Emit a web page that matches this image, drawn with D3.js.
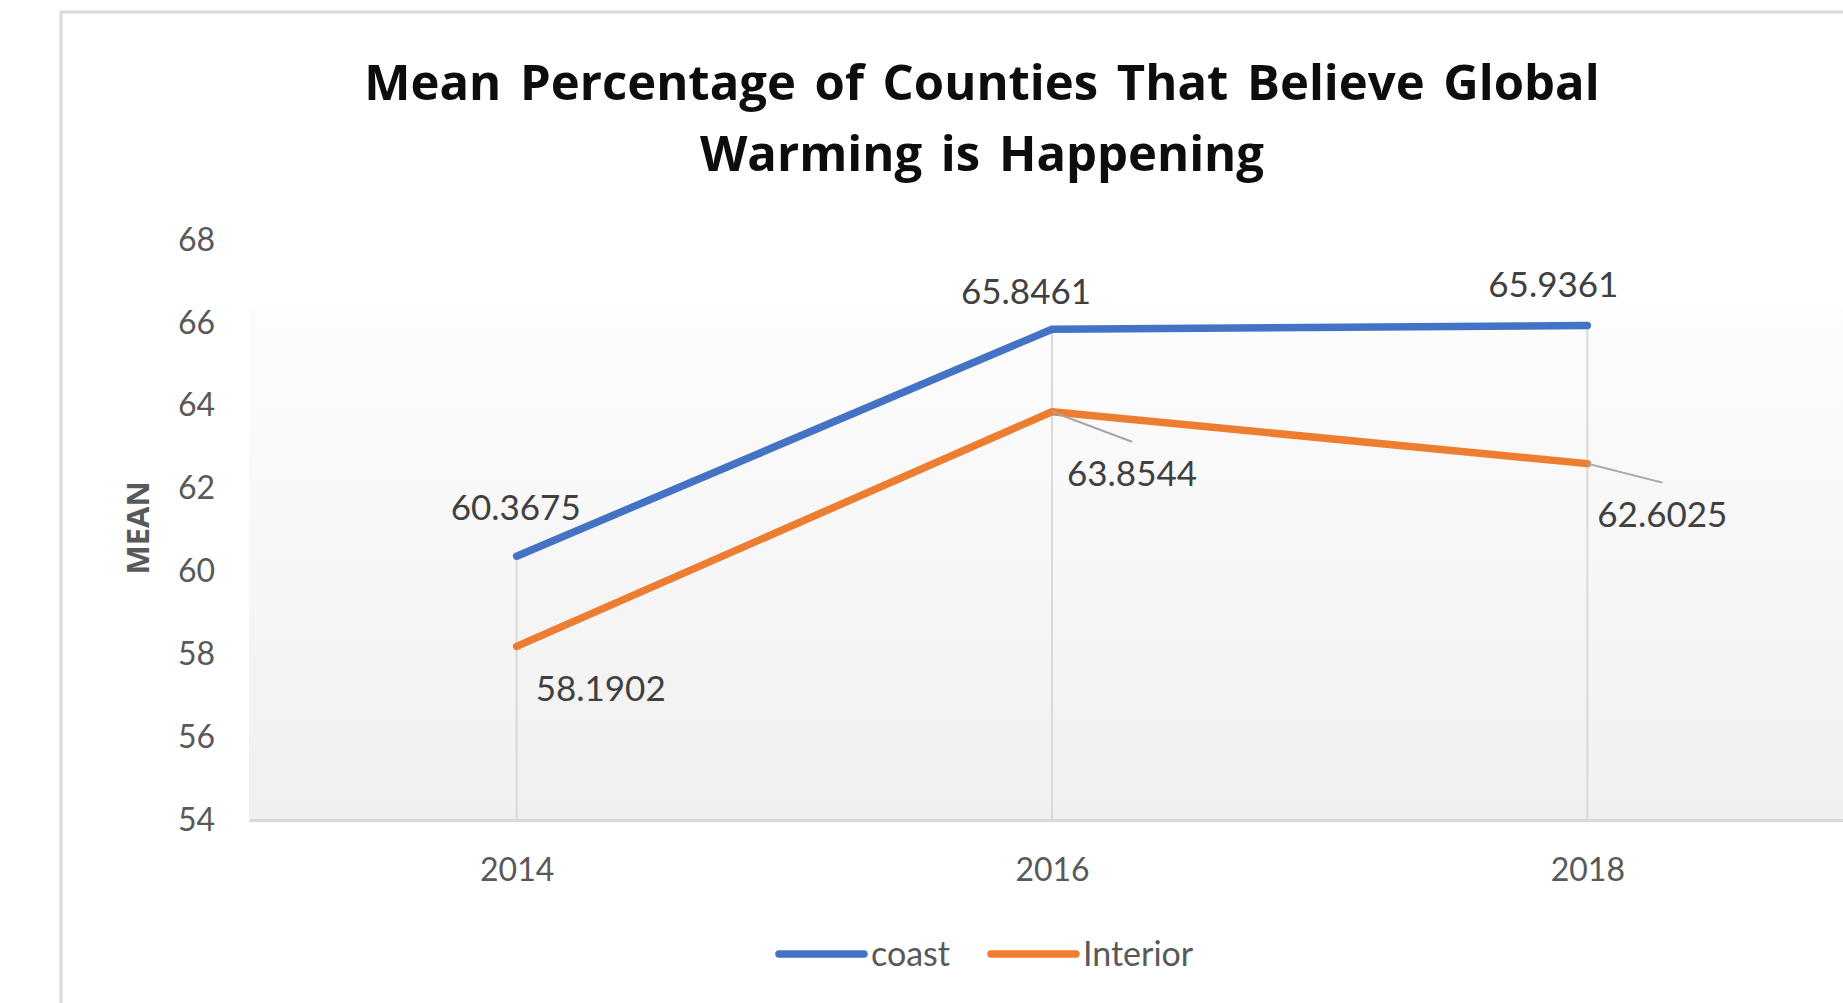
<!DOCTYPE html>
<html>
<head>
<meta charset="utf-8">
<script src="https://cdn.jsdelivr.net/npm/d3@7"></script>
<style>
  html, body { margin: 0; padding: 0; background: #ffffff; overflow: hidden; }
  svg { display: block; }
</style>
</head>
<body>
<svg id="chart" width="1843" height="1003"></svg>
<script>
// ---- data ----
const years = ["2014", "2016", "2018"];
const coast = [60.3675, 65.8461, 65.9361];
const interior = [58.1902, 63.8544, 62.6025];
const seriesNames = ["coast", "Interior"];
const yTicks = [54, 56, 58, 60, 62, 64, 66, 68];
const titleLines = ["Mean Percentage of Counties That Believe Global", "Warming is Happening"];
const yAxisTitle = "MEAN";

// ---- layout & style ----
const W = 1843, H = 1003;
const colors = ["#4472C4", "#ED7D31"];
const plot = { left: 249, right: 1855, top: 306, bottom: 820 };
const labelFont = "Lato, 'Open Sans', sans-serif";

// data-label placement relative to each point: [dx, dy(baseline), leader?]
const coastLabelPos = [[-1, -36, false], [-26, -25, false], [-34, -29, false]];
const interiorLabelPos = [[84, 55, false], [80, 74, true], [75, 63, true]];

const svg = d3.select("#chart");

const x = d3.scalePoint().domain(years).range([plot.left, plot.right]).padding(0.5);
const y = d3.scaleLinear().domain([54, 68]).range([820, 240]);

// chart frame
svg.append("rect")
  .attr("x", 61).attr("y", 12)
  .attr("width", W + 40).attr("height", H + 40)
  .attr("fill", "#ffffff")
  .attr("stroke", "#d9d9d9").attr("stroke-width", 3);

// plot-area fill
const defs = svg.append("defs");
const grad = defs.append("linearGradient")
  .attr("id", "plotFill").attr("x1", 0).attr("y1", 0).attr("x2", 0).attr("y2", 1);
grad.append("stop").attr("offset", "0%").attr("stop-color", "#fdfdfd");
grad.append("stop").attr("offset", "100%").attr("stop-color", "#f0f0f0");

svg.append("rect")
  .attr("x", plot.left).attr("y", plot.top)
  .attr("width", plot.right - plot.left).attr("height", plot.bottom - plot.top)
  .attr("fill", "url(#plotFill)");

// title
svg.append("g").selectAll("text")
  .data(titleLines)
  .join("text")
  .attr("x", 982)
  .attr("y", (d, i) => 100 + i * 71)
  .attr("text-anchor", "middle")
  .attr("font-family", "'Open Sans', sans-serif")
  .attr("font-weight", 700)
  .attr("font-size", 49)
  .attr("word-spacing", 6)
  .attr("fill", "#0d0d0d")
  .text(d => d);

// y axis (labels only)
const yAxis = svg.append("g")
  .attr("transform", `translate(${plot.left},0)`)
  .call(d3.axisLeft(y).tickValues(yTicks).tickSize(0).tickPadding(34));
yAxis.select(".domain").remove();
yAxis.selectAll("text")
  .attr("font-family", labelFont)
  .attr("font-size", 32)
  .attr("fill", "#595959");

// y axis title
svg.append("text")
  .attr("transform", `translate(149,528) rotate(-90)`)
  .attr("text-anchor", "middle")
  .attr("font-family", "'Open Sans', sans-serif")
  .attr("font-weight", 700)
  .attr("font-size", 31)
  .attr("fill", "#595959")
  .text(yAxisTitle);

// drop lines from the higher series value down to the axis
svg.append("g").selectAll("line")
  .data(years)
  .join("line")
  .attr("x1", d => x(d)).attr("x2", d => x(d))
  .attr("y1", (d, i) => y(Math.max(coast[i], interior[i])))
  .attr("y2", plot.bottom)
  .attr("stroke", "#d9d9d9").attr("stroke-width", 2);

// x axis
const xAxis = svg.append("g")
  .attr("transform", `translate(0,${plot.bottom})`)
  .call(d3.axisBottom(x).tickSize(0).tickSizeOuter(0).tickPadding(38));
xAxis.select(".domain").attr("stroke", "#d9d9d9").attr("stroke-width", 3);
xAxis.selectAll("text")
  .attr("font-family", labelFont)
  .attr("font-size", 32)
  .attr("fill", "#595959");

// series lines
const series = [coast, interior];
const line = d3.line().x((d, i) => x(years[i])).y(d => y(d));
svg.append("g").selectAll("path")
  .data(series)
  .join("path")
  .attr("d", d => line(d))
  .attr("fill", "none")
  .attr("stroke", (d, i) => colors[i])
  .attr("stroke-width", 7.5)
  .attr("stroke-linecap", "round")
  .attr("stroke-linejoin", "round");

// data labels
const labelPos = [coastLabelPos, interiorLabelPos];
series.forEach((vals, s) => {
  const g = svg.append("g");
  vals.forEach((v, i) => {
    const px = x(years[i]), py = y(v);
    const [dx, dy, leader] = labelPos[s][i];
    if (leader) {
      g.append("line")
        .attr("x1", px).attr("y1", py)
        .attr("x2", px + dx).attr("y2", py + dy - 44)
        .attr("stroke", "#a6a6a6").attr("stroke-width", 2);
    }
    g.append("text")
      .attr("x", px + dx).attr("y", py + dy)
      .attr("text-anchor", "middle")
      .attr("font-family", labelFont)
      .attr("font-size", 35)
      .attr("fill", "#404040")
      .text(v.toFixed(4));
  });
});

// legend
const legendItems = [{ x: 779, tx: 871 }, { x: 991, tx: 1083 }];
const legend = svg.append("g");
seriesNames.forEach((name, i) => {
  legend.append("line")
    .attr("x1", legendItems[i].x).attr("x2", legendItems[i].x + 85)
    .attr("y1", 954).attr("y2", 954)
    .attr("stroke", colors[i]).attr("stroke-width", 7.5)
    .attr("stroke-linecap", "round");
  legend.append("text")
    .attr("x", legendItems[i].tx).attr("y", 966)
    .attr("font-family", labelFont)
    .attr("font-size", 34)
    .attr("fill", "#595959")
    .text(name);
});
</script>
</body>
</html>
